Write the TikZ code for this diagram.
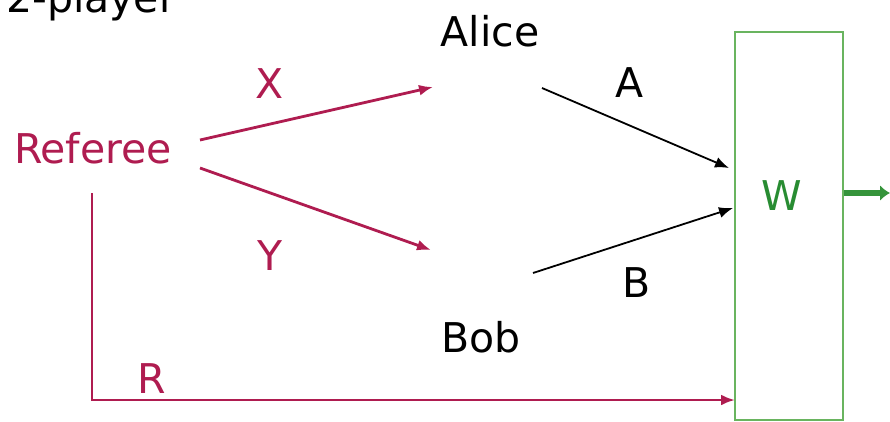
\documentclass[tikz,border=0pt]{standalone}
\usepackage{fontspec}
\setmainfont{DejaVu Sans}
\usetikzlibrary{positioning,arrows.meta}
\definecolor{refred}{RGB}{175,28,80}
\definecolor{boxgreen}{RGB}{105,180,95}
\definecolor{wgreen}{RGB}{40,140,50}

\begin{document}
\begin{tikzpicture}[x=1pt,y=-1pt,
  lbl/.style={anchor=base,inner sep=0pt,font=\fontsize{41}{49}\selectfont},
  redarr/.style={refred,line width=2.8pt,-{Latex[length=14pt,width=11pt]}},
  blkarr/.style={black,line width=1.8pt,-{Latex[length=14pt,width=11pt]}},
  grnarr/.style={wgreen!80!boxgreen,line width=6pt,-{Latex[length=10pt,width=16pt]}}]

\useasboundingbox (0,0) rectangle (890,421);

% box of the judge
\node[draw=boxgreen,line width=2.5pt,minimum width=108pt,minimum height=388pt,inner sep=0pt] (wbox) at (789,226) {};

% texts
\node [lbl,black,anchor=base west] (title) at (6,12) {2-player};
\node [lbl,refred] (referee) at (93,163) {Referee};
\node [lbl,black] (alice) at (490,46) {Alice};
\node [lbl,black] (bob) at (481,352) {Bob};
\node [lbl,wgreen] (w) at (782,210) {W};

\node [lbl,refred] (x) at (270,98) {X};
\node [lbl,refred] (y) at (270,270) {Y};
\node [lbl,refred] (r) at (152,393) {R};
\node [lbl,black] (a) at (630,97) {A};
\node [lbl,black] (b) at (637,297) {B};

% ends of the connectors
\coordinate (refx) at (200,140);
\coordinate (refy) at (200,168);
\coordinate (refr) at (92,193);
\coordinate (alicein) at (433,87);
\coordinate (bobin) at (431,250);
\coordinate (aliceout) at (542,88);
\coordinate (bobout) at (533,273);
\coordinate (wa) at (729,168);
\coordinate (wb) at (733,208);
\coordinate (wr) at (735,400);
\coordinate (out) at (890,193);

\draw[redarr] (refx) -- (alicein);
\draw[redarr] (refy) -- (bobin);
\draw[redarr] (refr) |- (wr);

\draw[blkarr] (aliceout) -- (wa);
\draw[blkarr] (bobout) -- (wb);

\draw[grnarr] (wbox.east |- out) -- (out);

\end{tikzpicture}
\end{document}
